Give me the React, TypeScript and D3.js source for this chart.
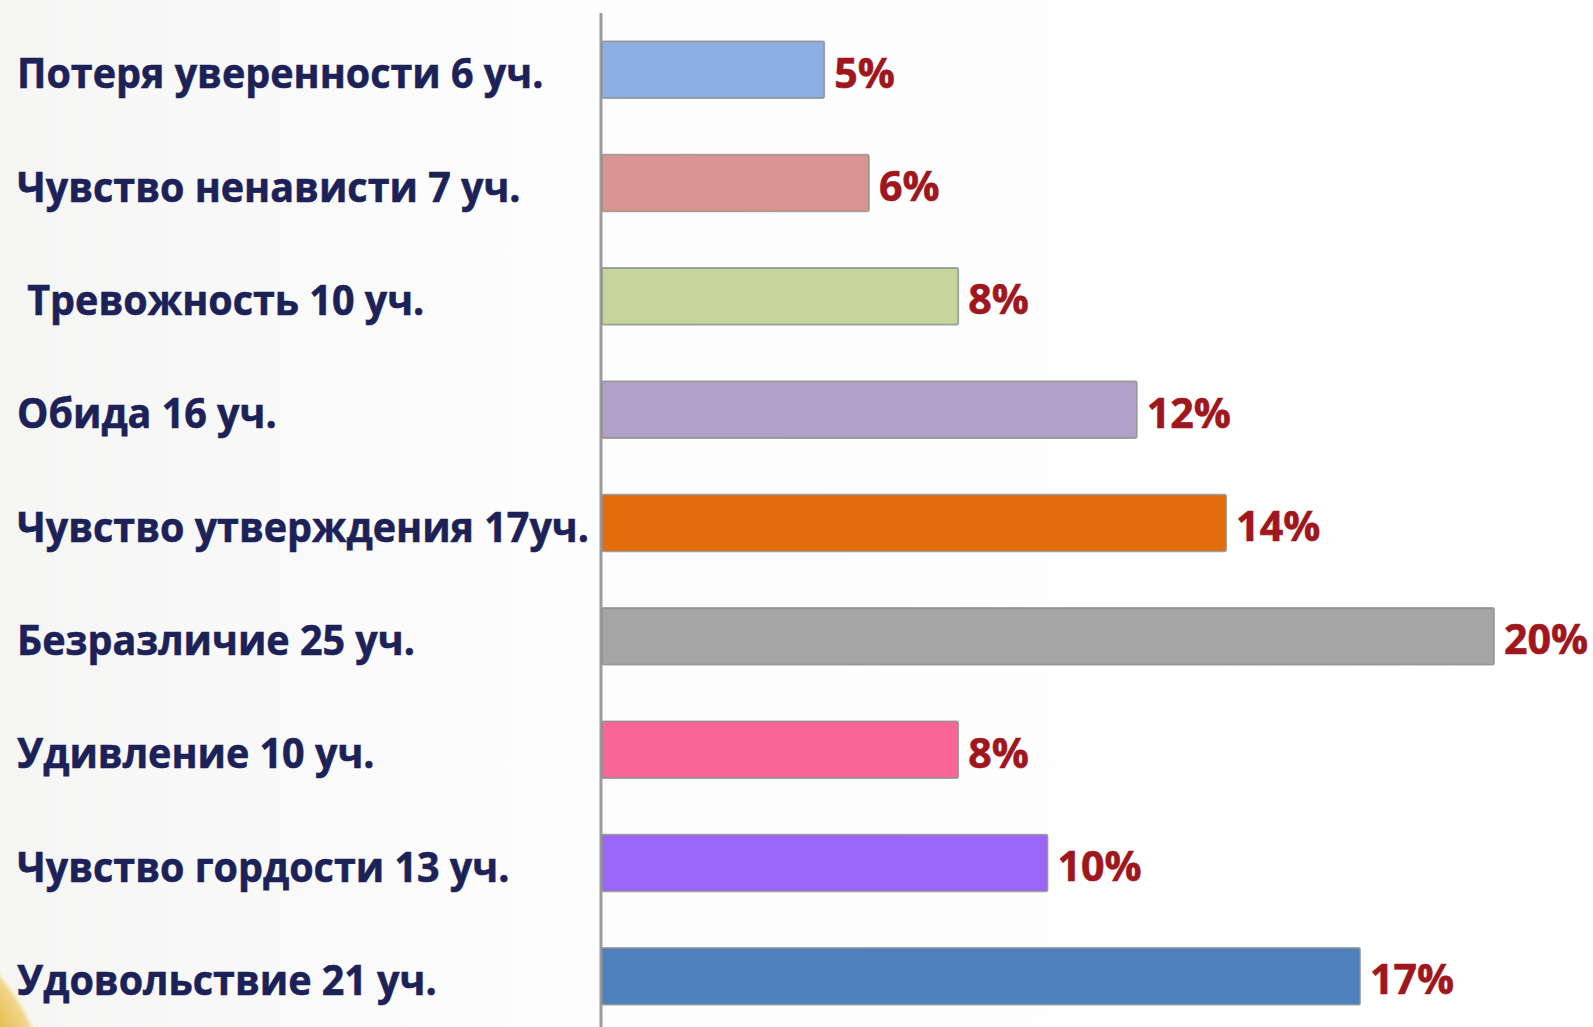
import React from "react";
import * as d3 from "d3";

const categories = [
  "Потеря уверенности 6 уч.",
  "Чувство ненависти 7 уч.",
  " Тревожность 10 уч.",
  "Обида 16 уч.",
  "Чувство утверждения 17уч.",
  "Безразличие 25 уч.",
  "Удивление 10 уч.",
  "Чувство гордости 13 уч.",
  "Удовольствие 21 уч.",
];
const values = [5, 6, 8, 12, 14, 20, 8, 10, 17];
const valueLabels = ["5%", "6%", "8%", "12%", "14%", "20%", "8%", "10%", "17%"];
const colors = [
  "#8DB0E2",
  "#D99492",
  "#C4D69C",
  "#B3A0C8",
  "#E46C0A",
  "#A5A5A5",
  "#FA6597",
  "#9A66FA",
  "#4F80BE",
];

const W = 1593;
const H = 1027;

export default function App() {
  const x = d3.scaleLinear().domain([0, 20]).range([601, 1494]);
  const y = d3
    .scaleBand<string>()
    .domain(categories)
    .range([13, 1033])
    .paddingInner(0.5)
    .paddingOuter(0.25);

  const font = "'Open Sans', 'Noto Sans', sans-serif";
  const sxLabel = 0.94;
  const sxValue = 0.98;

  return (
    <div style={{ position: "fixed", left: 0, top: 0, width: W, height: H }}>
      <svg width={W} height={H} style={{ display: "block" }}>
        <defs>
          <linearGradient id="bg" x1="0" y1="0" x2="1" y2="0">
            <stop offset="0" stopColor="#f5f5f4" />
            <stop offset="0.35" stopColor="#fdfdfd" />
            <stop offset="1" stopColor="#ffffff" />
          </linearGradient>
          <radialGradient id="blob" cx="0.5" cy="0.5" r="0.5">
            <stop offset="0.85" stopColor="#E6BE52" />
            <stop offset="0.97" stopColor="#F0D58A" />
            <stop offset="1" stopColor="#FBF6E6" stopOpacity="0.6" />
          </radialGradient>
        </defs>
        <rect x={0} y={0} width={W} height={H} fill="url(#bg)" />
        <circle cx={-160} cy={1110} r={212} fill="url(#blob)" />

        {/* axis line */}
        <line x1={x(0)} x2={x(0)} y1={13} y2={H} stroke="#9c9c9c" strokeWidth={3} />

        {categories.map((c, i) => {
          const yc = (y(c) as number) + y.bandwidth() / 2;
          return (
            <g key={i}>
              <rect
                x={x(0) + 1}
                y={y(c)}
                width={x(values[i]) - x(0) - 1}
                height={y.bandwidth()}
                fill={colors[i]}
                stroke="#8f8f8f"
                strokeOpacity={0.8}
                strokeWidth={1.8}
                rx={1.5}
              />
              <text
                transform={`translate(17, ${yc + 18.5}) scale(${sxLabel}, 1)`}
                fontFamily={font}
                fontWeight={700}
                fontSize={42}
                fill="#1C2257"
                stroke="#1C2257"
                strokeWidth={0.6}
                style={{ whiteSpace: "pre" }}
              >
                {c}
              </text>
              <text
                transform={`translate(${x(values[i]) + 10}, ${yc + 18}) scale(${sxValue}, 1)`}
                fontFamily={font}
                fontWeight={700}
                fontSize={42}
                fill="#A0161D"
                stroke="#A0161D"
                strokeWidth={0.6}
              >
                {valueLabels[i]}
              </text>
            </g>
          );
        })}
      </svg>
    </div>
  );
}
